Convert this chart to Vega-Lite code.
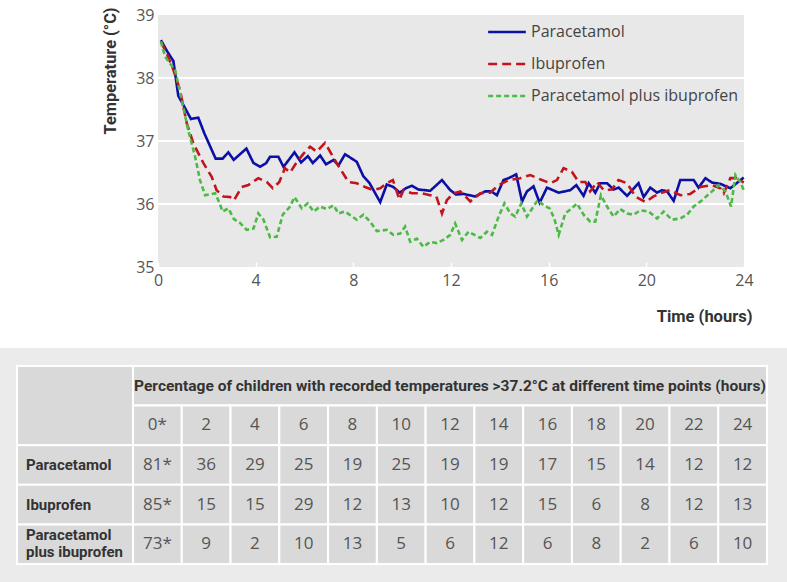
{
  "$schema": "https://vega.github.io/schema/vega-lite/v6.json",
  "padding": {"top": 7, "left": 0, "right": 0, "bottom": 0},
  "background": "white",
  "spacing": 23,
  "config": {"font": "Open Sans", "view": {"stroke": null}},
  "datasets": {
    "lines": [
      {"s":"Paracetamol","t":0.12,"c":38.60},{"s":"Paracetamol","t":0.38,"c":38.42},{"s":"Paracetamol","t":0.63,"c":38.27},{"s":"Paracetamol","t":0.83,"c":37.72},{"s":"Paracetamol","t":1.11,"c":37.52},{"s":"Paracetamol","t":1.35,"c":37.35},{"s":"Paracetamol","t":1.65,"c":37.37},{"s":"Paracetamol","t":1.90,"c":37.12},{"s":"Paracetamol","t":2.13,"c":36.92},{"s":"Paracetamol","t":2.36,"c":36.72},{"s":"Paracetamol","t":2.65,"c":36.72},{"s":"Paracetamol","t":2.88,"c":36.82},{"s":"Paracetamol","t":3.10,"c":36.70},{"s":"Paracetamol","t":3.62,"c":36.88},{"s":"Paracetamol","t":3.91,"c":36.65},{"s":"Paracetamol","t":4.18,"c":36.59},{"s":"Paracetamol","t":4.43,"c":36.65},{"s":"Paracetamol","t":4.59,"c":36.75},{"s":"Paracetamol","t":4.93,"c":36.75},{"s":"Paracetamol","t":5.14,"c":36.59},{"s":"Paracetamol","t":5.59,"c":36.82},{"s":"Paracetamol","t":5.86,"c":36.66},{"s":"Paracetamol","t":6.14,"c":36.76},{"s":"Paracetamol","t":6.34,"c":36.65},{"s":"Paracetamol","t":6.64,"c":36.77},{"s":"Paracetamol","t":6.88,"c":36.63},{"s":"Paracetamol","t":7.19,"c":36.70},{"s":"Paracetamol","t":7.39,"c":36.61},{"s":"Paracetamol","t":7.66,"c":36.79},{"s":"Paracetamol","t":8.14,"c":36.67},{"s":"Paracetamol","t":8.41,"c":36.44},{"s":"Paracetamol","t":8.65,"c":36.34},{"s":"Paracetamol","t":9.10,"c":36.03},{"s":"Paracetamol","t":9.37,"c":36.31},{"s":"Paracetamol","t":9.64,"c":36.27},{"s":"Paracetamol","t":9.90,"c":36.18},{"s":"Paracetamol","t":10.15,"c":36.25},{"s":"Paracetamol","t":10.40,"c":36.29},{"s":"Paracetamol","t":10.67,"c":36.23},{"s":"Paracetamol","t":11.15,"c":36.21},{"s":"Paracetamol","t":11.63,"c":36.38},{"s":"Paracetamol","t":11.97,"c":36.22},{"s":"Paracetamol","t":12.21,"c":36.15},{"s":"Paracetamol","t":12.51,"c":36.16},{"s":"Paracetamol","t":12.99,"c":36.12},{"s":"Paracetamol","t":13.40,"c":36.20},{"s":"Paracetamol","t":13.65,"c":36.20},{"s":"Paracetamol","t":13.88,"c":36.14},{"s":"Paracetamol","t":14.15,"c":36.38},{"s":"Paracetamol","t":14.36,"c":36.41},{"s":"Paracetamol","t":14.67,"c":36.47},{"s":"Paracetamol","t":14.91,"c":36.04},{"s":"Paracetamol","t":15.11,"c":36.20},{"s":"Paracetamol","t":15.38,"c":36.28},{"s":"Paracetamol","t":15.63,"c":36.02},{"s":"Paracetamol","t":15.93,"c":36.26},{"s":"Paracetamol","t":16.41,"c":36.18},{"s":"Paracetamol","t":16.89,"c":36.22},{"s":"Paracetamol","t":17.13,"c":36.30},{"s":"Paracetamol","t":17.43,"c":36.13},{"s":"Paracetamol","t":17.64,"c":36.33},{"s":"Paracetamol","t":17.91,"c":36.18},{"s":"Paracetamol","t":18.11,"c":36.33},{"s":"Paracetamol","t":18.39,"c":36.33},{"s":"Paracetamol","t":18.66,"c":36.23},{"s":"Paracetamol","t":18.87,"c":36.26},{"s":"Paracetamol","t":19.21,"c":36.13},{"s":"Paracetamol","t":19.68,"c":36.33},{"s":"Paracetamol","t":19.89,"c":36.11},{"s":"Paracetamol","t":20.16,"c":36.26},{"s":"Paracetamol","t":20.44,"c":36.18},{"s":"Paracetamol","t":20.64,"c":36.22},{"s":"Paracetamol","t":20.85,"c":36.20},{"s":"Paracetamol","t":21.12,"c":36.05},{"s":"Paracetamol","t":21.39,"c":36.38},{"s":"Paracetamol","t":21.94,"c":36.38},{"s":"Paracetamol","t":22.14,"c":36.26},{"s":"Paracetamol","t":22.42,"c":36.41},{"s":"Paracetamol","t":22.69,"c":36.34},{"s":"Paracetamol","t":23.03,"c":36.32},{"s":"Paracetamol","t":23.44,"c":36.25},{"s":"Paracetamol","t":23.99,"c":36.42},
      {"s":"Ibuprofen","t":0.12,"c":38.58},{"s":"Ibuprofen","t":0.38,"c":38.37},{"s":"Ibuprofen","t":0.63,"c":38.13},{"s":"Ibuprofen","t":0.90,"c":37.81},{"s":"Ibuprofen","t":1.18,"c":37.28},{"s":"Ibuprofen","t":1.45,"c":36.96},{"s":"Ibuprofen","t":1.86,"c":36.65},{"s":"Ibuprofen","t":2.20,"c":36.43},{"s":"Ibuprofen","t":2.40,"c":36.22},{"s":"Ibuprofen","t":2.68,"c":36.12},{"s":"Ibuprofen","t":2.95,"c":36.11},{"s":"Ibuprofen","t":3.11,"c":36.06},{"s":"Ibuprofen","t":3.43,"c":36.27},{"s":"Ibuprofen","t":3.70,"c":36.30},{"s":"Ibuprofen","t":4.11,"c":36.41},{"s":"Ibuprofen","t":4.45,"c":36.35},{"s":"Ibuprofen","t":4.70,"c":36.25},{"s":"Ibuprofen","t":4.97,"c":36.35},{"s":"Ibuprofen","t":5.20,"c":36.57},{"s":"Ibuprofen","t":5.41,"c":36.50},{"s":"Ibuprofen","t":5.66,"c":36.65},{"s":"Ibuprofen","t":5.96,"c":36.80},{"s":"Ibuprofen","t":6.23,"c":36.91},{"s":"Ibuprofen","t":6.50,"c":36.83},{"s":"Ibuprofen","t":6.84,"c":36.97},{"s":"Ibuprofen","t":7.32,"c":36.65},{"s":"Ibuprofen","t":7.80,"c":36.35},{"s":"Ibuprofen","t":8.14,"c":36.33},{"s":"Ibuprofen","t":8.48,"c":36.27},{"s":"Ibuprofen","t":8.82,"c":36.22},{"s":"Ibuprofen","t":9.10,"c":36.25},{"s":"Ibuprofen","t":9.37,"c":36.33},{"s":"Ibuprofen","t":9.62,"c":36.38},{"s":"Ibuprofen","t":9.89,"c":36.07},{"s":"Ibuprofen","t":10.05,"c":36.22},{"s":"Ibuprofen","t":10.40,"c":36.17},{"s":"Ibuprofen","t":10.81,"c":36.17},{"s":"Ibuprofen","t":11.15,"c":36.14},{"s":"Ibuprofen","t":11.40,"c":36.12},{"s":"Ibuprofen","t":11.63,"c":35.85},{"s":"Ibuprofen","t":11.83,"c":36.06},{"s":"Ibuprofen","t":12.10,"c":36.17},{"s":"Ibuprofen","t":12.38,"c":36.20},{"s":"Ibuprofen","t":12.79,"c":36.04},{"s":"Ibuprofen","t":13.20,"c":36.17},{"s":"Ibuprofen","t":13.60,"c":36.18},{"s":"Ibuprofen","t":13.95,"c":36.30},{"s":"Ibuprofen","t":14.36,"c":36.38},{"s":"Ibuprofen","t":14.84,"c":36.41},{"s":"Ibuprofen","t":15.25,"c":36.46},{"s":"Ibuprofen","t":15.72,"c":36.38},{"s":"Ibuprofen","t":16.07,"c":36.33},{"s":"Ibuprofen","t":16.34,"c":36.38},{"s":"Ibuprofen","t":16.61,"c":36.57},{"s":"Ibuprofen","t":16.95,"c":36.51},{"s":"Ibuprofen","t":17.23,"c":36.35},{"s":"Ibuprofen","t":17.50,"c":36.35},{"s":"Ibuprofen","t":17.70,"c":36.20},{"s":"Ibuprofen","t":17.98,"c":36.35},{"s":"Ibuprofen","t":18.25,"c":36.22},{"s":"Ibuprofen","t":18.59,"c":36.23},{"s":"Ibuprofen","t":18.86,"c":36.38},{"s":"Ibuprofen","t":19.21,"c":36.33},{"s":"Ibuprofen","t":19.55,"c":36.12},{"s":"Ibuprofen","t":19.96,"c":36.03},{"s":"Ibuprofen","t":20.30,"c":36.12},{"s":"Ibuprofen","t":20.57,"c":36.17},{"s":"Ibuprofen","t":20.98,"c":36.22},{"s":"Ibuprofen","t":21.39,"c":36.14},{"s":"Ibuprofen","t":21.80,"c":36.16},{"s":"Ibuprofen","t":22.21,"c":36.27},{"s":"Ibuprofen","t":22.69,"c":36.30},{"s":"Ibuprofen","t":23.03,"c":36.25},{"s":"Ibuprofen","t":23.17,"c":36.17},{"s":"Ibuprofen","t":23.44,"c":36.41},{"s":"Ibuprofen","t":23.70,"c":36.41},{"s":"Ibuprofen","t":23.99,"c":36.34},
      {"s":"Paracetamol plus ibuprofen","t":0.12,"c":38.58},{"s":"Paracetamol plus ibuprofen","t":0.29,"c":38.34},{"s":"Paracetamol plus ibuprofen","t":0.49,"c":38.23},{"s":"Paracetamol plus ibuprofen","t":0.70,"c":38.13},{"s":"Paracetamol plus ibuprofen","t":0.97,"c":37.65},{"s":"Paracetamol plus ibuprofen","t":1.24,"c":37.17},{"s":"Paracetamol plus ibuprofen","t":1.52,"c":36.75},{"s":"Paracetamol plus ibuprofen","t":1.72,"c":36.38},{"s":"Paracetamol plus ibuprofen","t":1.93,"c":36.14},{"s":"Paracetamol plus ibuprofen","t":2.34,"c":36.17},{"s":"Paracetamol plus ibuprofen","t":2.47,"c":36.06},{"s":"Paracetamol plus ibuprofen","t":2.65,"c":35.88},{"s":"Paracetamol plus ibuprofen","t":2.88,"c":35.93},{"s":"Paracetamol plus ibuprofen","t":3.11,"c":35.76},{"s":"Paracetamol plus ibuprofen","t":3.36,"c":35.70},{"s":"Paracetamol plus ibuprofen","t":3.63,"c":35.59},{"s":"Paracetamol plus ibuprofen","t":3.91,"c":35.61},{"s":"Paracetamol plus ibuprofen","t":4.11,"c":35.85},{"s":"Paracetamol plus ibuprofen","t":4.32,"c":35.75},{"s":"Paracetamol plus ibuprofen","t":4.59,"c":35.47},{"s":"Paracetamol plus ibuprofen","t":4.86,"c":35.48},{"s":"Paracetamol plus ibuprofen","t":5.11,"c":35.83},{"s":"Paracetamol plus ibuprofen","t":5.41,"c":35.96},{"s":"Paracetamol plus ibuprofen","t":5.59,"c":36.11},{"s":"Paracetamol plus ibuprofen","t":5.89,"c":35.93},{"s":"Paracetamol plus ibuprofen","t":6.13,"c":36.01},{"s":"Paracetamol plus ibuprofen","t":6.37,"c":35.88},{"s":"Paracetamol plus ibuprofen","t":6.64,"c":35.96},{"s":"Paracetamol plus ibuprofen","t":6.91,"c":35.92},{"s":"Paracetamol plus ibuprofen","t":7.19,"c":35.98},{"s":"Paracetamol plus ibuprofen","t":7.39,"c":35.85},{"s":"Paracetamol plus ibuprofen","t":7.66,"c":35.88},{"s":"Paracetamol plus ibuprofen","t":8.14,"c":35.75},{"s":"Paracetamol plus ibuprofen","t":8.41,"c":35.83},{"s":"Paracetamol plus ibuprofen","t":8.69,"c":35.72},{"s":"Paracetamol plus ibuprofen","t":8.96,"c":35.57},{"s":"Paracetamol plus ibuprofen","t":9.37,"c":35.59},{"s":"Paracetamol plus ibuprofen","t":9.64,"c":35.51},{"s":"Paracetamol plus ibuprofen","t":9.92,"c":35.53},{"s":"Paracetamol plus ibuprofen","t":10.12,"c":35.64},{"s":"Paracetamol plus ibuprofen","t":10.33,"c":35.40},{"s":"Paracetamol plus ibuprofen","t":10.60,"c":35.45},{"s":"Paracetamol plus ibuprofen","t":10.87,"c":35.32},{"s":"Paracetamol plus ibuprofen","t":11.15,"c":35.40},{"s":"Paracetamol plus ibuprofen","t":11.42,"c":35.38},{"s":"Paracetamol plus ibuprofen","t":11.69,"c":35.43},{"s":"Paracetamol plus ibuprofen","t":11.97,"c":35.51},{"s":"Paracetamol plus ibuprofen","t":12.17,"c":35.69},{"s":"Paracetamol plus ibuprofen","t":12.45,"c":35.43},{"s":"Paracetamol plus ibuprofen","t":12.72,"c":35.56},{"s":"Paracetamol plus ibuprofen","t":13.20,"c":35.46},{"s":"Paracetamol plus ibuprofen","t":13.47,"c":35.56},{"s":"Paracetamol plus ibuprofen","t":13.68,"c":35.51},{"s":"Paracetamol plus ibuprofen","t":13.95,"c":35.80},{"s":"Paracetamol plus ibuprofen","t":14.19,"c":36.01},{"s":"Paracetamol plus ibuprofen","t":14.43,"c":35.85},{"s":"Paracetamol plus ibuprofen","t":14.63,"c":35.80},{"s":"Paracetamol plus ibuprofen","t":14.88,"c":36.01},{"s":"Paracetamol plus ibuprofen","t":15.11,"c":35.80},{"s":"Paracetamol plus ibuprofen","t":15.38,"c":35.96},{"s":"Paracetamol plus ibuprofen","t":15.55,"c":36.06},{"s":"Paracetamol plus ibuprofen","t":15.79,"c":35.98},{"s":"Paracetamol plus ibuprofen","t":16.04,"c":35.93},{"s":"Paracetamol plus ibuprofen","t":16.23,"c":35.77},{"s":"Paracetamol plus ibuprofen","t":16.41,"c":35.51},{"s":"Paracetamol plus ibuprofen","t":16.68,"c":35.85},{"s":"Paracetamol plus ibuprofen","t":16.95,"c":35.93},{"s":"Paracetamol plus ibuprofen","t":17.16,"c":36.01},{"s":"Paracetamol plus ibuprofen","t":17.43,"c":35.83},{"s":"Paracetamol plus ibuprofen","t":17.70,"c":35.72},{"s":"Paracetamol plus ibuprofen","t":17.91,"c":35.72},{"s":"Paracetamol plus ibuprofen","t":18.14,"c":36.14},{"s":"Paracetamol plus ibuprofen","t":18.39,"c":35.96},{"s":"Paracetamol plus ibuprofen","t":18.66,"c":35.80},{"s":"Paracetamol plus ibuprofen","t":18.93,"c":35.92},{"s":"Paracetamol plus ibuprofen","t":19.21,"c":35.85},{"s":"Paracetamol plus ibuprofen","t":19.48,"c":35.83},{"s":"Paracetamol plus ibuprofen","t":19.75,"c":35.90},{"s":"Paracetamol plus ibuprofen","t":20.10,"c":35.88},{"s":"Paracetamol plus ibuprofen","t":20.44,"c":35.77},{"s":"Paracetamol plus ibuprofen","t":20.71,"c":35.88},{"s":"Paracetamol plus ibuprofen","t":21.05,"c":35.75},{"s":"Paracetamol plus ibuprofen","t":21.39,"c":35.77},{"s":"Paracetamol plus ibuprofen","t":21.67,"c":35.83},{"s":"Paracetamol plus ibuprofen","t":21.94,"c":35.96},{"s":"Paracetamol plus ibuprofen","t":22.28,"c":36.06},{"s":"Paracetamol plus ibuprofen","t":22.69,"c":36.20},{"s":"Paracetamol plus ibuprofen","t":22.96,"c":36.30},{"s":"Paracetamol plus ibuprofen","t":23.24,"c":36.20},{"s":"Paracetamol plus ibuprofen","t":23.47,"c":35.96},{"s":"Paracetamol plus ibuprofen","t":23.65,"c":36.46},{"s":"Paracetamol plus ibuprofen","t":23.85,"c":36.35},{"s":"Paracetamol plus ibuprofen","t":23.99,"c":36.22}
    ],
    "cells": [
      {"row":"time","col":"0*","txt":"0*"},{"row":"time","col":"2","txt":"2"},{"row":"time","col":"4","txt":"4"},{"row":"time","col":"6","txt":"6"},{"row":"time","col":"8","txt":"8"},{"row":"time","col":"10","txt":"10"},{"row":"time","col":"12","txt":"12"},{"row":"time","col":"14","txt":"14"},{"row":"time","col":"16","txt":"16"},{"row":"time","col":"18","txt":"18"},{"row":"time","col":"20","txt":"20"},{"row":"time","col":"22","txt":"22"},{"row":"time","col":"24","txt":"24"},
      {"row":"Paracetamol","col":"0*","txt":"81*"},{"row":"Paracetamol","col":"2","txt":"36"},{"row":"Paracetamol","col":"4","txt":"29"},{"row":"Paracetamol","col":"6","txt":"25"},{"row":"Paracetamol","col":"8","txt":"19"},{"row":"Paracetamol","col":"10","txt":"25"},{"row":"Paracetamol","col":"12","txt":"19"},{"row":"Paracetamol","col":"14","txt":"19"},{"row":"Paracetamol","col":"16","txt":"17"},{"row":"Paracetamol","col":"18","txt":"15"},{"row":"Paracetamol","col":"20","txt":"14"},{"row":"Paracetamol","col":"22","txt":"12"},{"row":"Paracetamol","col":"24","txt":"12"},
      {"row":"Ibuprofen","col":"0*","txt":"85*"},{"row":"Ibuprofen","col":"2","txt":"15"},{"row":"Ibuprofen","col":"4","txt":"15"},{"row":"Ibuprofen","col":"6","txt":"29"},{"row":"Ibuprofen","col":"8","txt":"12"},{"row":"Ibuprofen","col":"10","txt":"13"},{"row":"Ibuprofen","col":"12","txt":"10"},{"row":"Ibuprofen","col":"14","txt":"12"},{"row":"Ibuprofen","col":"16","txt":"15"},{"row":"Ibuprofen","col":"18","txt":"6"},{"row":"Ibuprofen","col":"20","txt":"8"},{"row":"Ibuprofen","col":"22","txt":"12"},{"row":"Ibuprofen","col":"24","txt":"13"},
      {"row":"Combo","col":"0*","txt":"73*"},{"row":"Combo","col":"2","txt":"9"},{"row":"Combo","col":"4","txt":"2"},{"row":"Combo","col":"6","txt":"10"},{"row":"Combo","col":"8","txt":"13"},{"row":"Combo","col":"10","txt":"5"},{"row":"Combo","col":"12","txt":"6"},{"row":"Combo","col":"14","txt":"12"},{"row":"Combo","col":"16","txt":"6"},{"row":"Combo","col":"18","txt":"8"},{"row":"Combo","col":"20","txt":"2"},{"row":"Combo","col":"22","txt":"6"},{"row":"Combo","col":"24","txt":"10"}
    ],
    "labels": [
      {"row":"Paracetamol","label":"Paracetamol","lines":1},
      {"row":"Ibuprofen","label":"Ibuprofen","lines":1},
      {"row":"Combo","label":"Paracetamol\nplus ibuprofen","lines":2}
    ],
    "header": [
      {"row":"header","txt":"Percentage of children with recorded temperatures >37.2°C at different time points (hours)"}
    ]
  },
  "vconcat": [
    {
      "width": 787,
      "height": 252,
      "layer": [
        {
          "data": {"values": [{}]},
          "mark": {"type": "rect", "fill": "#e8e8e8"},
          "encoding": {
            "x": {"datum": 0, "type": "quantitative"},
            "x2": {"datum": 24},
            "y": {"datum": 35, "type": "quantitative"},
            "y2": {"datum": 39}
          }
        },
        {
          "data": {"values": [{"g": 36}, {"g": 37}, {"g": 38}]},
          "mark": {"type": "rule", "color": "white", "strokeWidth": 2},
          "encoding": {
            "y": {"field": "g", "type": "quantitative"},
            "x": {"datum": 0, "type": "quantitative"},
            "x2": {"datum": 24}
          }
        },
        {
          "data": {"name": "lines"},
          "mark": {"type": "line", "strokeWidth": 2.6, "strokeJoin": "miter"},
          "encoding": {
            "x": {
              "field": "t", "type": "quantitative",
              "scale": {"domain": [-6.471, 25.761], "nice": false, "zero": false},
              "axis": {
                "values": [0, 4, 8, 12, 16, 20, 24], "title": "Time (hours)",
                "domain": false, "grid": false, "ticks": true, "tickColor": "white", "tickSize": -5, "tickWidth": 1.5,
                "labelPadding": 10, "labelFontSize": 16, "labelColor": "#555", "labelFont": "Open Sans",
                "titleFont": "Roboto", "titleFontSize": 16.5, "titleFontWeight": "bold", "titleColor": "#333",
                "titleX": 752, "titleY": 54, "titleAlign": "right", "titleBaseline": "alphabetic", "zindex": 1
              }
            },
            "y": {
              "field": "c", "type": "quantitative",
              "scale": {"domain": [35, 39], "nice": false, "zero": false},
              "axis": {
                "values": [35, 36, 37, 38, 39], "format": ".0f", "offset": -158, "domain": false, "ticks": false, "grid": false,
                "labelPadding": 4, "labelFontSize": 16, "labelColor": "#555", "labelFont": "Open Sans",
                "title": "Temperature (°C)", "titleFont": "Roboto", "titleFontSize": 16.4, "titleFontWeight": "bold", "titleColor": "#333",
                "titleX": -43, "titleY": -8, "titleAlign": "right", "titleBaseline": "alphabetic", "titleAngle": 270
              }
            },
            "color": {
              "field": "s", "type": "nominal",
              "scale": {"domain": ["Paracetamol", "Ibuprofen", "Paracetamol plus ibuprofen"], "range": ["#0b0fa5", "#c3141d", "#4cba45"]},
              "legend": {"title": null, "orient": "none", "legendX": 491, "legendY": 1, "direction": "vertical", "symbolType": "M-1.3,0H1.3", "symbolSize": 841, "symbolStrokeWidth": 2.6, "labelFontSize": 16, "labelColor": "#444", "labelFont": "Open Sans", "labelOffset": 8, "labelLimit": 0, "rowPadding": 8, "padding": 0}
            },
            "strokeDash": {
              "field": "s", "type": "nominal",
              "scale": {"domain": ["Paracetamol", "Ibuprofen", "Paracetamol plus ibuprofen"], "range": [[1, 0], [9, 5], [5, 3]]},
              "legend": {"title": null, "orient": "none", "legendX": 491, "legendY": 1, "direction": "vertical", "symbolType": "M-1.3,0H1.3", "symbolSize": 841, "symbolStrokeWidth": 2.6, "labelFontSize": 16, "labelColor": "#444", "labelFont": "Open Sans", "labelOffset": 8, "labelLimit": 0, "rowPadding": 8, "padding": 0}
            }
          }
        }
      ]
    },
    {
      "spacing": 0,
      "bounds": "flush",
      "hconcat": [
        {
          "width": 133,
          "height": 234,
          "view": {"fill": "#ebebeb", "stroke": null},
          "layer": [
            {
              "data": {"values": [{}]},
              "mark": {"type": "rect", "fill": "#d9d9d9", "stroke": "white", "strokeWidth": 2},
              "encoding": {
                "x": {"datum": "lab", "type": "nominal", "axis": null, "scale": {"type": "band", "domain": ["lab"], "paddingInner": 0, "paddingOuter": 0.0733, "align": 1}},
                "y": {"datum": "header", "type": "nominal", "bandPosition": 0, "axis": null, "scale": {"type": "band", "domain": ["header", "time", "Paracetamol", "Ibuprofen", "Combo"], "paddingInner": 0, "paddingOuter": 0.4545, "align": 0.5}},
                "y2": {"datum": "time", "bandPosition": 1}
              }
            },
            {
              "data": {"name": "labels"},
              "mark": {"type": "rect", "fill": "#d9d9d9", "stroke": "white", "strokeWidth": 2},
              "encoding": {
                "x": {"datum": "lab", "type": "nominal", "axis": null},
                "y": {"field": "row", "type": "nominal", "axis": null}
              }
            },
            {
              "data": {"name": "labels"},
              "transform": [{"filter": "datum.lines == 1"}],
              "mark": {"type": "text", "align": "left", "baseline": "middle", "dx": 9, "font": "Roboto", "fontWeight": "bold", "fontSize": 15, "color": "#333"},
              "encoding": {
                "x": {"datum": "lab", "type": "nominal", "bandPosition": 0, "axis": null},
                "y": {"field": "row", "type": "nominal", "axis": null},
                "text": {"field": "label"}
              }
            },
            {
              "data": {"name": "labels"},
              "transform": [{"filter": "datum.lines == 2"}],
              "mark": {"type": "text", "align": "left", "baseline": "middle", "dx": 9, "dy": -9, "font": "Roboto", "fontWeight": "bold", "fontSize": 15, "color": "#333", "lineBreak": "\n", "lineHeight": 17},
              "encoding": {
                "x": {"datum": "lab", "type": "nominal", "bandPosition": 0, "axis": null},
                "y": {"field": "row", "type": "nominal", "axis": null},
                "text": {"field": "label"}
              }
            }
          ]
        },
        {
          "width": 654,
          "height": 234,
          "view": {"fill": "#ebebeb", "stroke": null},
          "layer": [
            {
              "data": {"name": "header"},
              "mark": {"type": "rect", "fill": "#d9d9d9", "stroke": "white", "strokeWidth": 2},
              "encoding": {
                "x": {"datum": "0*", "type": "nominal", "bandPosition": 0, "axis": null, "scale": {"type": "band", "domain": ["0*", "2", "4", "6", "8", "10", "12", "14", "16", "18", "20", "22", "24"], "paddingInner": 0, "paddingOuter": 0.205, "align": 0}},
                "x2": {"datum": "24", "bandPosition": 1},
                "y": {"field": "row", "type": "nominal", "axis": null, "scale": {"type": "band", "domain": ["header", "time", "Paracetamol", "Ibuprofen", "Combo"], "paddingInner": 0, "paddingOuter": 0.4545, "align": 0.5}}
              }
            },
            {
              "data": {"name": "header"},
              "mark": {"type": "text", "align": "center", "baseline": "middle", "font": "Roboto", "fontWeight": "bold", "fontSize": 15.5, "color": "#333"},
              "encoding": {
                "x": {"datum": "12", "type": "nominal", "axis": null},
                "y": {"field": "row", "type": "nominal", "axis": null},
                "text": {"field": "txt"}
              }
            },
            {
              "data": {"name": "cells"},
              "mark": {"type": "rect", "fill": "#d9d9d9", "stroke": "white", "strokeWidth": 2},
              "encoding": {
                "x": {"field": "col", "type": "nominal", "axis": null},
                "y": {"field": "row", "type": "nominal", "axis": null}
              }
            },
            {
              "data": {"name": "cells"},
              "mark": {"type": "text", "align": "center", "baseline": "middle", "font": "Open Sans", "fontSize": 17, "color": "#555"},
              "encoding": {
                "x": {"field": "col", "type": "nominal", "axis": null},
                "y": {"field": "row", "type": "nominal", "axis": null},
                "text": {"field": "txt"}
              }
            }
          ]
        }
      ]
    }
  ]
}
